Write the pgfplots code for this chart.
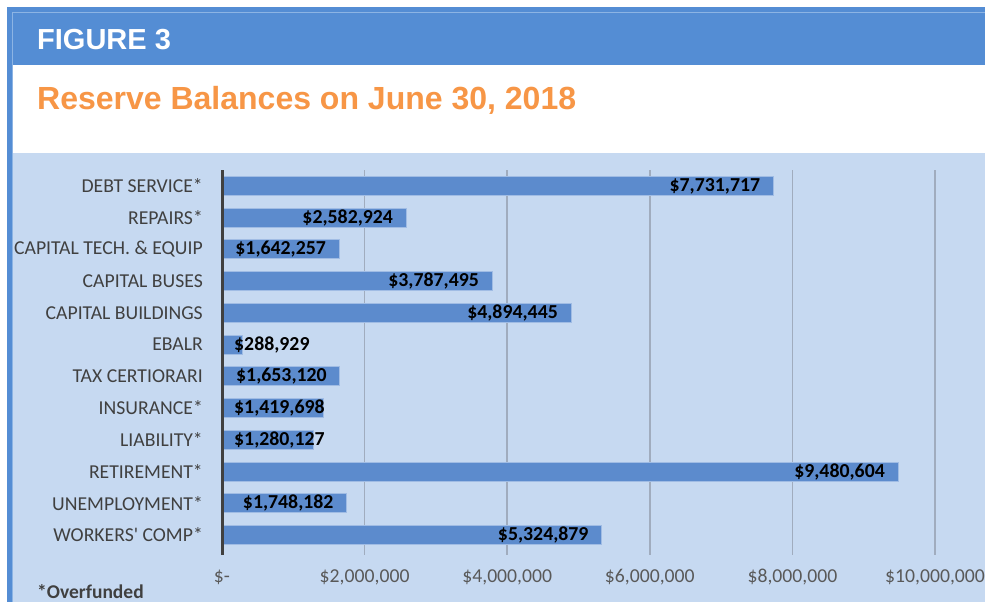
\documentclass[border=0pt]{standalone}
\usepackage{pgfplots}
\usepackage{pgfplotstable}
\pgfplotsset{compat=1.18}
\usepackage{fontspec}
\setmainfont{Carlito}
\newfontfamily\arial{Liberation Sans}
\definecolor{hdr}{RGB}{84,141,212}
\definecolor{hdrlight}{RGB}{140,180,228}
\definecolor{bg}{RGB}{198,217,241}
\definecolor{ttl}{RGB}{247,150,70}
\definecolor{cat}{RGB}{64,64,64}
\definecolor{tck}{RGB}{89,89,89}
\definecolor{barfill}{RGB}{92,139,205}
\definecolor{baredge}{RGB}{160,188,228}
\definecolor{grd}{RGB}{160,172,190}
\pgfplotstableread{
idx value label
11 7731717 {\$7,731,717}
10 2582924 {\$2,582,924}
9 1642257 {\$1,642,257}
8 3787495 {\$3,787,495}
7 4894445 {\$4,894,445}
6 288929 {\$288,929}
5 1653120 {\$1,653,120}
4 1419698 {\$1,419,698}
3 1280127 {\$1,280,127}
2 9480604 {\$9,480,604}
1 1748182 {\$1,748,182}
0 5324879 {\$5,324,879}
}\reserves
\begin{document}
\begin{tikzpicture}
\fill[white] (0pt,0pt) rectangle (985pt,602pt);
\fill[hdr] (7pt,0pt) rectangle (985pt,595pt);
\fill[white] (12pt,0pt) rectangle (985pt,537pt);
\fill[bg] (12pt,0pt) rectangle (985pt,449pt);
\draw[hdrlight,line width=0.8pt] (12.4pt,0pt) -- (12.4pt,589.6pt) -- (985pt,589.6pt);
\node[anchor=base west,inner sep=0pt,white,font=\arial\bfseries\fontsize{29}{32}\selectfont] at (37pt,552pt) {FIGURE 3};
\node[anchor=base west,inner sep=0pt,ttl,font=\arial\bfseries\fontsize{32}{34}\selectfont] at (37pt,492pt) {Reserve Balances on June 30, 2018};
\node[anchor=base west,inner sep=0pt,cat,font=\bfseries\fontsize{19.5}{22}\selectfont] at (37pt,3pt) {*Overfunded};
\begin{axis}[
  at={(222pt,47pt)}, anchor=south west,
  scale only axis, width=713pt, height=385pt,
  xmin=0, xmax=10000000, ymin=-0.63, ymax=11.5,
  xbar, bar width=19pt, bar shift=0pt,
  axis line style={draw=none},
  major tick length=0pt,
  xtick={0,2000000,4000000,6000000,8000000,10000000},
  xticklabels={{\$-},{\$2,000,000},{\$4,000,000},{\$6,000,000},{\$8,000,000},{\$10,000,000}},
  scaled x ticks=false,
  ytick={0,...,11},
  yticklabels={{WORKERS\textquotesingle{} COMP*},{UNEMPLOYMENT*},{RETIREMENT*},{LIABILITY*},{INSURANCE*},{TAX CERTIORARI},{EBALR},{CAPITAL BUILDINGS},{CAPITAL BUSES~},{CAPITAL TECH. \& EQUIP},{REPAIRS*},{DEBT SERVICE*}},
  yticklabel style={font=\fontsize{19.7}{22}\selectfont,text=cat,anchor=east,inner sep=0pt,xshift=-19pt},
  xticklabel style={font=\fontsize{19.7}{22}\selectfont,text=tck,anchor=center,inner sep=0pt,yshift=-22pt},
  /pgf/number format/assume math mode=true,
  xmajorgrids=true,
  major grid style={grd,line width=1.5pt},
  clip=false,
]
\addplot[bar shift=0pt,fill=barfill,draw=baredge,line width=0.8pt] table[x=value,y=idx] {\reserves};
\addplot[bar shift=0pt,draw=none,mark=none,fill=none,
  nodes near coords, point meta=explicit symbolic,
  every node near coord/.style={anchor=east,inner sep=0pt,text=black,font=\bfseries\fontsize{19.8}{22}\selectfont}]
  table[x expr={\thisrow{value}>=1500000 ? \thisrow{value}-182000 : nan},y=idx,meta=label] {\reserves};
\addplot[bar shift=0pt,draw=none,mark=none,fill=none,
  nodes near coords, point meta=explicit symbolic,
  every node near coord/.style={anchor=west,inner sep=0pt,text=black,font=\bfseries\fontsize{19.8}{22}\selectfont}]
  table[x expr={\thisrow{value}<1500000 ? 168000 : nan},y=idx,meta=label] {\reserves};
\draw[cat,line width=3pt] (axis cs:0,-0.63) -- (axis cs:0,11.5);
\end{axis}
\pgfresetboundingbox
\path (0pt,0pt) rectangle (985pt,602pt);
\end{tikzpicture}
\end{document}
